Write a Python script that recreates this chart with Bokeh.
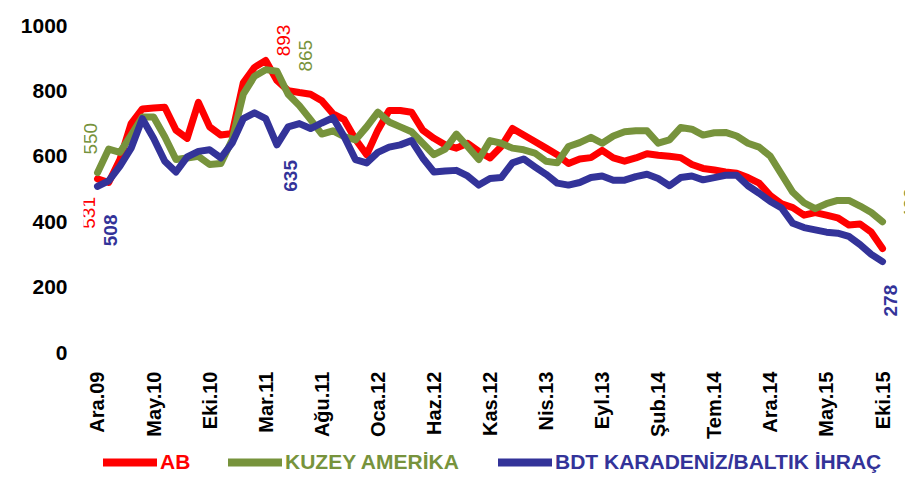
from math import pi
from bokeh.plotting import figure
from bokeh.layouts import column
from bokeh.models import FixedTicker, Legend, LegendItem
from bokeh.core.properties import value
from bokeh.embed import file_html
from bokeh.resources import INLINE

months = list(range(71))
tick_pos = list(range(0, 71, 5))
tick_labels = ["Ara.09", "May.10", "Eki.10", "Mar.11", "Ağu.11", "Oca.12", "Haz.12",
               "Kas.12", "Nis.13", "Eyl.13", "Şub.14", "Tem.14", "Ara.14", "May.15", "Eki.15"]
y_ticks = [0, 200, 400, 600, 800, 1000]

ab = [531, 520, 590, 700, 745, 748, 750, 680, 655, 765, 690, 665, 670, 825, 872, 893,
      832, 801, 795, 790, 770, 730, 712, 652, 605, 680, 740, 740, 735, 680, 655, 635,
      625, 640, 615, 595, 630, 685, 665, 645, 625, 605, 578, 592, 596, 618, 595, 585,
      595, 608, 603, 600, 596, 575, 563, 558, 552, 548, 535, 518, 480, 455, 443, 420,
      428, 420, 412, 390, 393, 368, 318]
kuzey = [550, 622, 612, 665, 720, 720, 660, 590, 595, 600, 575, 578, 650, 790, 845, 865,
         860, 790, 755, 712, 668, 678, 660, 650, 690, 735, 705, 690, 675, 640, 605, 622,
         668, 630, 590, 648, 640, 625, 620, 610, 585, 580, 630, 642, 658, 640, 662, 675,
         678, 678, 640, 650, 688, 683, 665, 672, 673, 662, 640, 628, 600, 545, 490, 458,
         440, 455, 465, 465, 448, 428, 400]
bdt = [508, 525, 570, 625, 715, 655, 585, 552, 598, 615, 620, 595, 640, 715, 733, 715,
       635, 690, 700, 685, 702, 718, 660, 590, 580, 612, 628, 635, 648, 595, 552, 555,
       557, 540, 512, 532, 535, 580, 592, 568, 545, 518, 512, 520, 535, 540, 527, 527,
       538, 545, 532, 510, 535, 540, 528, 535, 542, 542, 510, 487, 462, 442, 395, 382,
       375, 368, 365, 355, 330, 300, 278]

series_names = ["AB", "KUZEY AMERİKA", "BDT KARADENİZ/BALTIK İHRAÇ"]
colors = ["#FF0000", "#77933C", "#333399"]

# data-label indices per series and their pixel offsets
label_idx = [[0, 15, 70], [0, 15, 70], [0, 16, 70]]
label_dx = [[-9, 18, 31], [-7, 40, 28], [13, 14, 8]]
label_dy = [[34, -20, 15], [-34, -14, -18], [44, 31, 39]]
label_style = ["normal", "normal", "bold"]

FONT = "Liberation Sans"

p = figure(width=905, height=448, output_backend="svg", toolbar_location=None,
           x_range=(-1.248, 72.05), y_range=(-12.2, 1039.8),
           min_border_left=83, min_border_right=0, min_border_top=12,
           min_border_bottom=92)
p.outline_line_color = None
p.xgrid.visible = False
p.ygrid.visible = False

series = [ab, kuzey, bdt]
for vals, col in zip(series, colors):
    p.line(months, vals, line_width=7, line_color=col,
           line_join="round", line_cap="round")

for vals, col, idx, dx, dy, st in zip(series, colors, label_idx,
                                       label_dx, label_dy, label_style):
    p.text(x=[months[i] for i in idx], y=[vals[i] for i in idx],
           text=[str(vals[i]) for i in idx], angle=pi / 2,
           x_offset=dx, y_offset=dy, text_align="center", text_baseline="middle",
           text_color=col, text_font=value(FONT), text_font_size="19px",
           text_font_style=st)

ya = p.yaxis[0]
ya.ticker = FixedTicker(ticks=y_ticks)
ya.axis_line_color = None
ya.major_tick_line_color = None
ya.minor_tick_line_color = None
ya.major_label_text_font = FONT
ya.major_label_text_font_style = "bold"
ya.major_label_text_font_size = "21px"
ya.major_label_text_color = "black"
ya.major_label_standoff = 10

xa = p.xaxis[0]
xa.ticker = FixedTicker(ticks=tick_pos)
xa.major_label_overrides = {t: l for t, l in zip(tick_pos, tick_labels)}
xa.major_label_orientation = pi / 2
xa.axis_line_color = None
xa.major_tick_line_color = None
xa.minor_tick_line_color = None
xa.major_label_text_font = FONT
xa.major_label_text_font_style = "bold"
xa.major_label_text_font_size = "20px"
xa.major_label_text_color = "black"
xa.major_label_standoff = 9

# legend strip below the chart (its frame is aligned with the chart's frame)
lg = figure(width=905, height=35, output_backend="svg", toolbar_location=None,
            x_range=(0, 1), y_range=(-3000, -2000),
            min_border_left=0, min_border_right=0, min_border_top=0,
            min_border_bottom=0)
lg.outline_line_color = None
lg.axis.visible = False
lg.xgrid.visible = False
lg.ygrid.visible = False

leg_x = [20, 145, 415]
for name, col, vals, lx in zip(series_names, colors, series, leg_x):
    # same series, drawn out of view; only its legend swatch shows
    r = lg.line(months, vals, line_width=8, line_color=col, line_cap="round")
    leg = Legend(items=[LegendItem(label=name, renderers=[r])],
                 location=(lx, 9), orientation="horizontal",
                 glyph_width=54, glyph_height=20, label_standoff=3,
                 padding=0, margin=0, border_line_color=None,
                 background_fill_alpha=0,
                 label_text_font=FONT,
                 label_text_font_style="bold", label_text_font_size="21px",
                 label_text_color=col, label_height=20)
    lg.add_layout(leg, "center")

layout = column(p, lg, spacing=0)
open("out.html", "w").write(file_html(layout, INLINE))
